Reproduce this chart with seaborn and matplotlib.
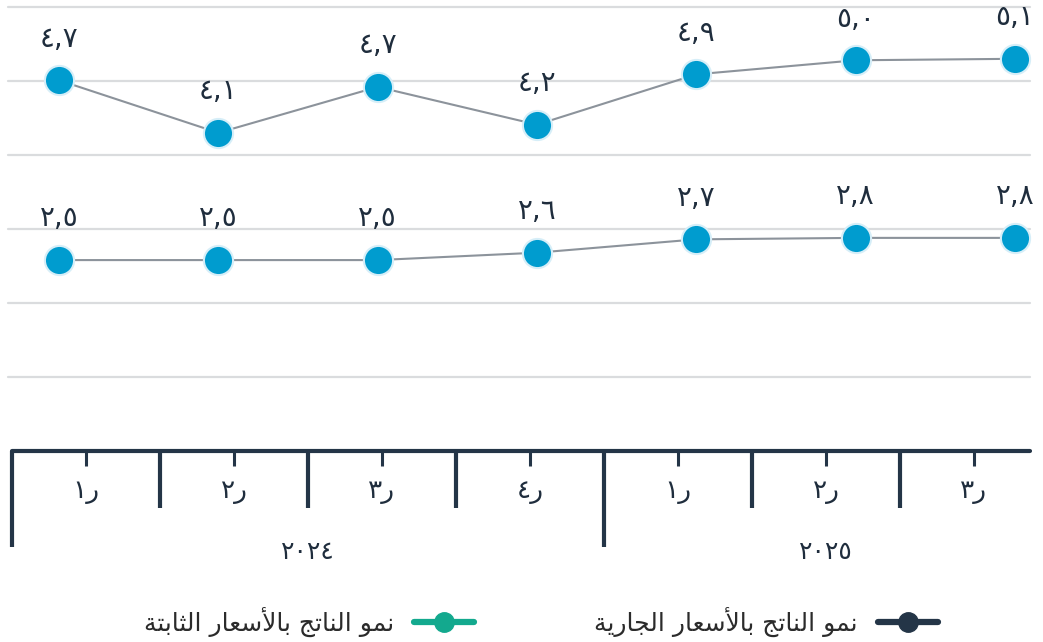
import numpy as np
import seaborn as sns
from matplotlib import pyplot as plt
from matplotlib.lines import Line2D

# data
quarters = ['ر1', 'ر2', 'ر3', 'ر4', 'ر1', 'ر2', 'ر3']
years = ['2024', '2025']
quarters_per_year = [4, 3]
current_labels = [4.7, 4.1, 4.7, 4.2, 4.9, 5.0, 5.1]
constant_labels = [2.5, 2.5, 2.5, 2.6, 2.7, 2.8, 2.8]
# heights of the dots as drawn (axis units, gridline every 1)
current_level = [5.01, 4.30, 4.92, 4.41, 5.09, 5.28, 5.30]
constant_level = [2.58, 2.58, 2.58, 2.68, 2.86, 2.88, 2.88]
legend_labels = ['نمو الناتج بالأسعار الجارية', 'نمو الناتج بالأسعار الثابتة']

BLUE = '#009ccf'
GRAY = '#8c939b'
NAVY = '#243547'
TEAL = '#13a98e'
TXT = '#1f2d3d'

AR_DIGITS = str.maketrans('0123456789', '٠١٢٣٤٥٦٧٨٩')

# minimal arabic shaping (no raqm in matplotlib): isolated, final, initial, medial
FORMS = {
    'ا': ('\uFE8D', '\uFE8E', None, None),
    'أ': ('\uFE83', '\uFE84', None, None),
    'ب': ('\uFE8F', '\uFE90', '\uFE91', '\uFE92'),
    'ة': ('\uFE93', '\uFE94', None, None),
    'ت': ('\uFE95', '\uFE96', '\uFE97', '\uFE98'),
    'ث': ('\uFE99', '\uFE9A', '\uFE9B', '\uFE9C'),
    'ج': ('\uFE9D', '\uFE9E', '\uFE9F', '\uFEA0'),
    'ر': ('\uFEAD', '\uFEAE', None, None),
    'س': ('\uFEB1', '\uFEB2', '\uFEB3', '\uFEB4'),
    'ع': ('\uFEC9', '\uFECA', '\uFECB', '\uFECC'),
    'ل': ('\uFEDD', '\uFEDE', '\uFEDF', '\uFEE0'),
    'م': ('\uFEE1', '\uFEE2', '\uFEE3', '\uFEE4'),
    'ن': ('\uFEE5', '\uFEE6', '\uFEE7', '\uFEE8'),
    'و': ('\uFEED', '\uFEEE', None, None),
    'ي': ('\uFEF1', '\uFEF2', '\uFEF3', '\uFEF4'),
}
LAM_ALEF = {'ا': ('\uFEFB', '\uFEFC'), 'أ': ('\uFEF7', '\uFEF8')}


def shape(text):
    chars = list(text)
    out = []
    i = 0
    while i < len(chars):
        c = chars[i]
        if c not in FORMS:
            out.append(c)
            i += 1
            continue
        prev = chars[i - 1] if i > 0 else ''
        prev_join = prev in FORMS and FORMS[prev][2] is not None
        nxt = chars[i + 1] if i + 1 < len(chars) else ''
        if c == 'ل' and nxt in LAM_ALEF:
            out.append(LAM_ALEF[nxt][1] if prev_join else LAM_ALEF[nxt][0])
            i += 2
            continue
        next_join = FORMS[c][2] is not None and nxt in FORMS
        iso, fin, ini, med = FORMS[c]
        if prev_join and next_join:
            out.append(med)
        elif prev_join:
            out.append(fin)
        elif next_join:
            out.append(ini)
        else:
            out.append(iso)
        i += 1
    return ''.join(reversed(out)).translate(AR_DIGITS)


def num(v):
    return f'{v:.1f}'.replace('.', ',').translate(AR_DIGITS)


sns.set_theme(style='white')
plt.rcParams['font.family'] = ['DejaVu Sans']

W, H = 1043, 642
fig = plt.figure(figsize=(W / 100, H / 100), dpi=100)

# main plot area: x 8..1030 px, y 7..451 px
ax = fig.add_axes([8 / W, 1 - 451 / H, (1030 - 8) / W, (451 - 7) / H])
pos = np.arange(len(current_level))
step = (1015 - 59) / 6
ax.set_xlim(-(59 - 8) / step, 6 + (1030 - 1015) / step)
ax.set_ylim(0, 6)
for g in range(1, 7):
    ax.axhline(g, color='#dadcde', lw=1.6, zorder=0, clip_on=False)

for level, labels in [(current_level, current_labels), (constant_level, constant_labels)]:
    sns.lineplot(x=pos, y=level, ax=ax, color=GRAY, lw=1.5, marker='o',
                 markersize=21, markerfacecolor=BLUE, markeredgecolor='#d6eef8',
                 markeredgewidth=1.5, clip_on=False)
    for x, y, lab in zip(pos, level, labels):
        ax.annotate(num(lab), (x, y), xytext=(0, 30), textcoords='offset points',
                    ha='center', va='center', fontsize=20, color=TXT)

ax.set_xticks([])
ax.set_yticks([])
ax.set_xlabel('')
sns.despine(ax=ax, left=True, bottom=True)

# category axis band: x 12..1030 px, y 451..547 px, units in px vertically
cat = fig.add_axes([12 / W, 1 - 547 / H, (1030 - 12) / W, 96 / H])
qw = 148
cat.set_xlim(0, (1030 - 12) / qw)
cat.set_ylim(96, 0)
cat.axis('off')
cat.axhline(0, color=NAVY, lw=3, clip_on=False)
starts = np.cumsum([0] + quarters_per_year[:-1])
for k in range(len(quarters)):
    long = k in starts
    cat.plot([k, k], [0, 96 if long else 57], color=NAVY, lw=3, solid_capstyle='butt', clip_on=False)
    cat.plot([k + 0.5, k + 0.5], [0, 15], color=NAVY, lw=2.2, solid_capstyle='butt')
    cat.text(k + 0.5, 40, shape(quarters[k]), ha='center', va='center', fontsize=19, color=TXT)
for s, n, yr in zip(starts, quarters_per_year, years):
    cat.text(s + n / 2, 101, yr.translate(AR_DIGITS), ha='center', va='center',
             fontsize=18, color=TXT, clip_on=False)

handles = [
    Line2D([], [], color=TEAL, lw=4.5, marker='o', markersize=14, solid_capstyle='round'),
    Line2D([], [], color=NAVY, lw=4.5, marker='o', markersize=14, solid_capstyle='round'),
]
fig.legend(handles, [shape(legend_labels[1]), shape(legend_labels[0])], ncol=2,
           markerfirst=False, loc='center', bbox_to_anchor=(541 / W, 1 - 622 / H),
           frameon=False, fontsize=18, handlelength=2.4, handletextpad=0.8,
           columnspacing=4.8, labelcolor='#2b2b2b')

fig.savefig('out.png', dpi=100)
